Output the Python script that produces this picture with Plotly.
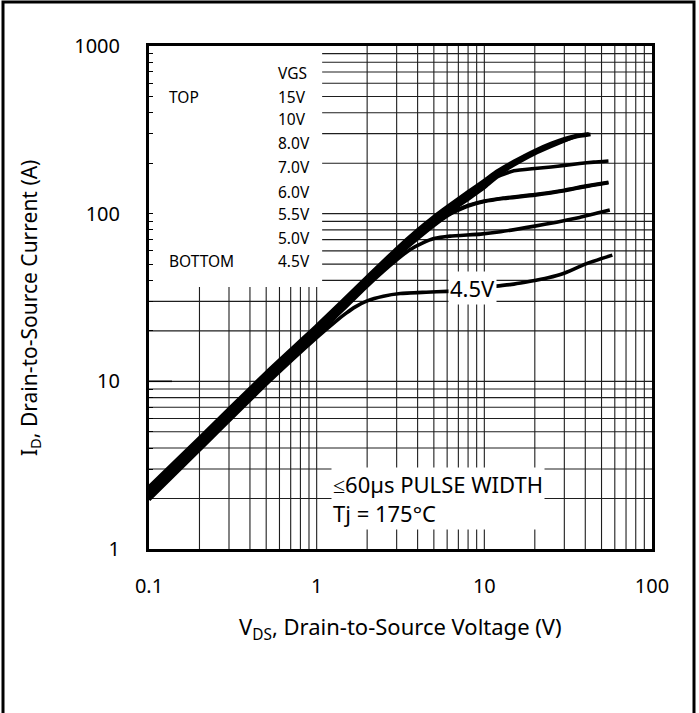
import plotly.graph_objects as go

# ---------------- data ----------------
vgs_labels = ["15V", "10V", "8.0V", "7.0V", "6.0V", "5.5V", "5.0V", "4.5V"]

vds_15v = [0.1, 0.2, 0.5, 1, 2, 3, 4, 5, 6, 8, 10, 12, 15, 20, 25, 30, 35, 42]
id_15v = [2.35, 4.6, 11.3, 21.5, 42, 62, 80, 96, 110, 135, 158, 180, 205, 238, 262, 280, 292, 300]

vds_10v = [0.1, 0.2, 0.5, 1, 2, 3, 4, 5, 6, 8, 10, 12, 15, 20, 25, 30, 35, 43]
id_10v = [2.28, 4.45, 11.0, 21.0, 41, 60, 78, 93, 107, 131, 153, 174, 199, 232, 256, 274, 287, 297]

vds_8v = [0.1, 0.2, 0.5, 1, 2, 3, 4, 5, 6, 8, 10, 12, 15, 20, 25, 30, 36]
id_8v = [2.22, 4.35, 10.7, 20.4, 40, 58.5, 76, 91, 104, 128, 150, 170, 195, 228, 252, 272, 293]

vds_7v = [0.1, 0.2, 0.5, 1, 2, 3, 4, 5, 6, 8, 10, 12, 15, 20, 25, 30, 37, 45, 55]
id_7v = [2.17, 4.25, 10.4, 19.8, 39, 57, 73, 87, 100, 122, 143, 166, 180, 186, 190, 194, 199, 203, 206]

vds_6v = [0.1, 0.2, 0.5, 1, 2, 3, 4, 5, 6, 7, 8, 10, 13, 20, 30, 40, 55]
id_6v = [2.12, 4.15, 10.2, 19.4, 38, 56, 72, 86, 98, 106, 112, 119, 124, 130, 138, 146, 154]

vds_55v = [0.1, 0.2, 0.5, 1, 2, 3, 4, 5, 6, 7, 8, 10, 13, 20, 30, 40, 55]
id_55v = [2.08, 4.1, 10.0, 19.1, 37.6, 55.5, 71, 85, 97, 105, 111, 118, 123, 129, 137, 145, 153]

vds_5v = [0.1, 0.2, 0.5, 1, 2, 3, 3.6, 4.3, 5, 6.25, 9.5, 12.5, 19.6, 27, 37, 56]
id_5v = [2.03, 4.0, 9.9, 18.8, 37, 53, 61, 67, 71, 73.5, 75.5, 78, 84, 89, 95, 105]

vds_45v = [0.1, 0.2, 0.5, 1, 1.3, 1.5, 1.7, 2, 2.5, 3.15, 4.5, 6, 8, 11.3, 15, 18.8, 24, 29.6, 40, 58]
id_45v = [1.97, 3.9, 9.6, 18.2, 22.8, 25.5, 27.8, 30.2, 32.2, 33.4, 34, 34.4, 35, 36.8, 38, 39.5, 41.5, 44, 50, 56.6]

x_tick_vals = [0.1, 1, 10, 100]
x_tick_text = ["0.1", "1", "10", "100"]
y_tick_vals = [1, 10, 100, 1000]
y_tick_text = ["1", "10", "100", "1000"]

series = [
    (vgs_labels[0], vds_15v, id_15v),
    (vgs_labels[1], vds_10v, id_10v),
    (vgs_labels[2], vds_8v, id_8v),
    (vgs_labels[3], vds_7v, id_7v),
    (vgs_labels[4], vds_6v, id_6v),
    (vgs_labels[5], vds_55v, id_55v),
    (vgs_labels[6], vds_5v, id_5v),
    (vgs_labels[7], vds_45v, id_45v),
]

# ---------------- layout geometry ----------------
W, H = 699, 713
L, R, T, B = 149, 47, 46, 164
PW = W - L - R
PH = H - T - B
FONT = "Noto Sans"


def px_x(px):
    return (px - L) / PW


def px_y(py):
    return (H - B - py) / PH


# grid values (every 1..9 multiple per decade)
x_grid = [k * 10 ** d for d in (-1, 0, 1) for k in range(1, 10)][1:]
y_grid = [k * 10 ** d for d in (0, 1, 2) for k in range(1, 10)][1:]
y_minor = [k * 10 ** d for d in (0, 1, 2) for k in range(2, 10)]

# extent of the white legend block (data units)
LEG_X = 1.078
LEG_Y = 36.5

fig = go.Figure()
for name, xs, ys in series:
    fig.add_trace(go.Scatter(
        x=xs, y=ys, mode="lines", name=name,
        line=dict(color="black", width=3.6, shape="spline", smoothing=0.5),
        showlegend=False, hoverinfo="skip",
    ))

fig.update_xaxes(
    type="log", range=[-1, 2],
    tickvals=x_tick_vals, ticktext=x_tick_text,
    ticks="", ticklabelstandoff=17,
    showgrid=False,
    showline=True, linecolor="black", linewidth=3, mirror=True,
    tickfont=dict(family=FONT, size=20, color="black"),
    zeroline=False,
)
fig.update_yaxes(
    type="log", range=[0, 3],
    tickvals=y_tick_vals, ticktext=y_tick_text,
    ticks="inside", ticklen=4, tickcolor="black", ticklabelstandoff=22,
    showgrid=False,
    minor=dict(tickvals=y_minor, showgrid=False,
               ticks="inside", ticklen=4, tickcolor="black"),
    showline=True, linecolor="black", linewidth=3, mirror=True,
    tickfont=dict(family=FONT, size=20, color="black"),
    zeroline=False,
)

grid_line = dict(color="#1e1e1e", width=1.1)
shapes = []
for xv in x_grid:
    y_top = LEG_Y if xv < LEG_X else 1000
    shapes.append(dict(type="line", xref="x", yref="y", x0=xv, x1=xv, y0=1, y1=y_top,
                       line=grid_line, layer="below"))
for yv in y_grid:
    x_left = LEG_X if yv > LEG_Y else 0.1
    shapes.append(dict(type="line", xref="x", yref="y", x0=x_left, x1=100, y0=yv, y1=yv,
                       line=grid_line, layer="below"))
# short major tick at 10
shapes.append(dict(type="line", xref="paper", yref="y",
                   x0=0, x1=px_x(172), y0=10, y1=10,
                   line=dict(color="black", width=1.5), layer="above"))
# outer frame of the whole picture
shapes.append(dict(type="rect", xref="paper", yref="paper",
                   x0=px_x(3), x1=px_x(694), y0=px_y(740), y1=px_y(2),
                   line=dict(color="black", width=3), fillcolor="rgba(0,0,0,0)",
                   layer="above"))

annotations = []
LEG_FONT = dict(family=FONT, size=15.5, color="black")
legend_rows_py = [96.7, 119.3, 143.3, 166.7, 191.7, 214.3, 238.3, 260.7]
annotations.append(dict(text="VGS", xref="paper", yref="paper", x=px_x(276), y=px_y(72.7),
                        xanchor="left", yanchor="middle", showarrow=False, font=LEG_FONT))
annotations.append(dict(text="TOP", xref="paper", yref="paper", x=px_x(167), y=px_y(96.7),
                        xanchor="left", yanchor="middle", showarrow=False, font=LEG_FONT))
annotations.append(dict(text="BOTTOM", xref="paper", yref="paper", x=px_x(167), y=px_y(260.7),
                        xanchor="left", yanchor="middle", showarrow=False, font=LEG_FONT))
for lab, py in zip(vgs_labels, legend_rows_py):
    annotations.append(dict(text=lab, xref="paper", yref="paper", x=px_x(276), y=px_y(py),
                            xanchor="left", yanchor="middle", showarrow=False, font=LEG_FONT))

# 4.5V curve label
annotations.append(dict(text="4.5V", xref="paper", yref="paper", x=px_x(472), y=px_y(288),
                        xanchor="center", yanchor="middle", showarrow=False,
                        bgcolor="white", borderpad=1,
                        font=dict(family=FONT, size=22, color="black")))
# pulse width note
annotations.append(dict(text="≤60µs PULSE WIDTH<br>Tj = 175°C", xref="paper", yref="paper",
                        x=px_x(331), y=px_y(498), xanchor="left", yanchor="middle",
                        align="left", showarrow=False, bgcolor="white", borderpad=1,
                        font=dict(family=FONT, size=22, color="black")))
# axis titles
annotations.append(dict(text="V<sub>DS</sub>, Drain-to-Source Voltage (V)", xref="paper", yref="paper",
                        x=0.5, y=px_y(628), xanchor="center", yanchor="middle", showarrow=False,
                        font=dict(family=FONT, size=22, color="black")))
annotations.append(dict(text="I<sub>D</sub>, Drain-to-Source Current (A)", xref="paper", yref="paper",
                        x=px_x(30), y=px_y(308), xanchor="center", yanchor="middle", showarrow=False,
                        textangle=-90, font=dict(family=FONT, size=21, color="black")))

fig.update_layout(
    width=W, height=H,
    margin=dict(l=L, r=R, t=T, b=B, pad=0),
    paper_bgcolor="white", plot_bgcolor="white",
    shapes=shapes, annotations=annotations,
    showlegend=False,
    font=dict(family=FONT, color="black"),
)

fig.write_html("out.html",
               config={"displayModeBar": False, "staticPlot": True},
               post_script="document.body.style.margin='0px';document.body.style.overflow='hidden';")
